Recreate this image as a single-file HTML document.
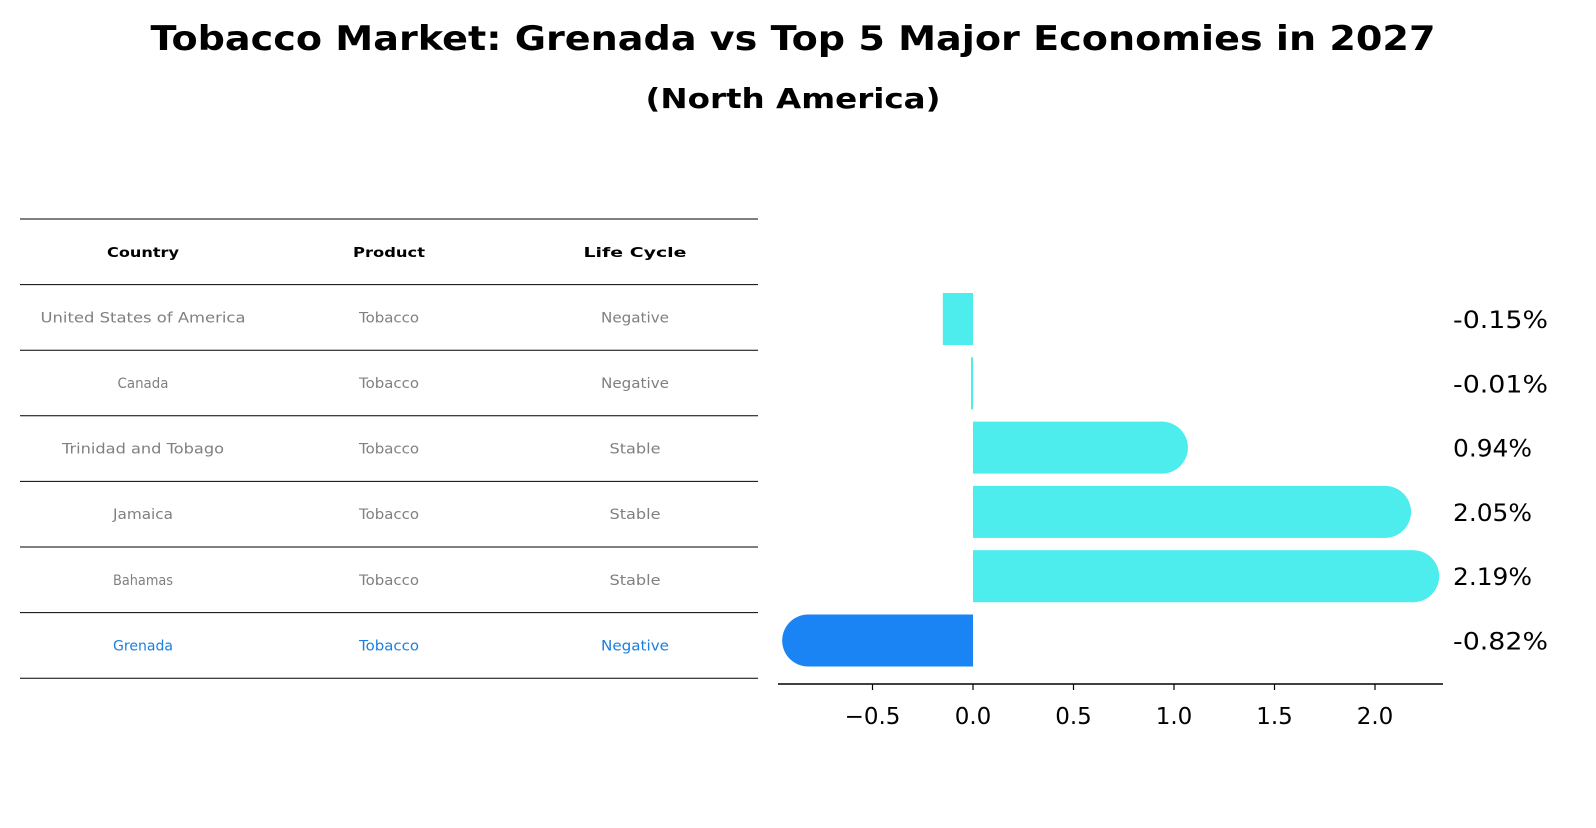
<!DOCTYPE html>
<html><head><meta charset="utf-8"><style>
body{margin:0;background:#fff;font-family:"Liberation Sans","DejaVu Sans",sans-serif;}
</style></head><body>
<svg width="1596" height="823" xmlns="http://www.w3.org/2000/svg">
<text x="793" y="50" text-anchor="middle" font-size="34" font-weight="bold" textLength="1285" lengthAdjust="spacingAndGlyphs" font-family="DejaVu Sans, Liberation Sans, sans-serif">Tobacco Market: Grenada vs Top 5 Major Economies in 2027</text>
<text x="793" y="108" text-anchor="middle" font-size="28" font-weight="bold" textLength="295" lengthAdjust="spacingAndGlyphs" font-family="DejaVu Sans, Liberation Sans, sans-serif">(North America)</text>
<g id="table"></g>
<g id="bars"></g>
</svg>
<script>
const countries=["United States of America","Canada","Trinidad and Tobago","Jamaica","Bahamas","Grenada"];
const products=["Tobacco","Tobacco","Tobacco","Tobacco","Tobacco","Tobacco"];
const lifeCycles=["Negative","Negative","Stable","Stable","Stable","Negative"];
const values=[-0.15,-0.01,0.94,2.05,2.19,-0.82];
const ticks=[-0.5,0,0.5,1.0,1.5,2.0];
const tickLabels=["\u22120.5","0.0","0.5","1.0","1.5","2.0"];
const NS="http://www.w3.org/2000/svg";
function mk(tag,attrs,parent){const e=document.createElementNS(NS,tag);for(const k in attrs)e.setAttribute(k,attrs[k]);parent.appendChild(e);return e;}
const tb=document.getElementById('table');
const rowH=65.6, tableTop=219;
for(let i=0;i<=countries.length+1;i++){
  const l=mk('line',{x1:20,x2:758,y1:tableTop+i*rowH,y2:tableTop+i*rowH,stroke:'#000','stroke-width':1},tb);
  
  
}
const colX=[143,389,635];
const headers=["Country","Product","Life Cycle"];
const charW=8.55;
headers.forEach((h,j)=>{const t=mk('text',{x:colX[j],y:tableTop+rowH/2+5,'text-anchor':'middle','font-size':13,'font-weight':'bold',textLength:(h.length*10.3).toFixed(0),lengthAdjust:'spacingAndGlyphs','font-family':'DejaVu Sans, Liberation Sans, sans-serif'},tb);t.textContent=h;

});
countries.forEach((c,i)=>{
  const row=[c,products[i],lifeCycles[i]];
  const col=i===countries.length-1?'#1a7fe0':'#808080';
  row.forEach((v,j)=>{const t=mk('text',{x:colX[j],y:tableTop+rowH*(i+1)+rowH/2+5,'text-anchor':'middle','font-size':14,fill:col,textLength:(v.length*charW).toFixed(0),lengthAdjust:'spacingAndGlyphs','font-family':'DejaVu Sans, Liberation Sans, sans-serif'},tb);t.textContent=v;
  
  });
});
const g=document.getElementById('bars');
const x0=973, ppu=201;
const xs=v=>x0+v*ppu;
const yc=i=>319+i*64.3;
const bh=52, r=26;
values.forEach((v,i)=>{
  const col=i===values.length-1?'#1a84f4':'#4deded';
  const xa=Math.min(xs(0),xs(v)), w=Math.abs(xs(v)-xs(0));
  const rc=mk('rect',{x:xa,y:yc(i)-bh/2,width:Math.max(w,1.5),height:bh,fill:col},g);
  
  
  if(Math.abs(v)>0.5){
    const cap=mk('circle',{cx:xs(v),cy:yc(i),r:r,fill:col},g);
    
    
  }
  const s=v.toFixed(2)+'%';
  const t=mk('text',{x:1453,y:yc(i)+9,'font-size':24,textLength:(s.length*15.8).toFixed(0),lengthAdjust:'spacingAndGlyphs','font-family':'DejaVu Sans, Liberation Sans, sans-serif'},g);
  t.textContent=s;
  
  
});
const ax=mk('line',{x1:778,x2:1443,y1:684,y2:684,stroke:'#000','stroke-width':1.5},g);


ticks.forEach((tv,k)=>{
  const tl=mk('line',{x1:xs(tv),x2:xs(tv),y1:684,y2:690,stroke:'#000','stroke-width':1.2},g);
  
  
  const t=mk('text',{x:xs(tv),y:724,'text-anchor':'middle','font-size':23,'font-family':'DejaVu Sans, Liberation Sans, sans-serif'},g);
  t.textContent=tickLabels[k];
  
  
});
</script>
</body></html>
